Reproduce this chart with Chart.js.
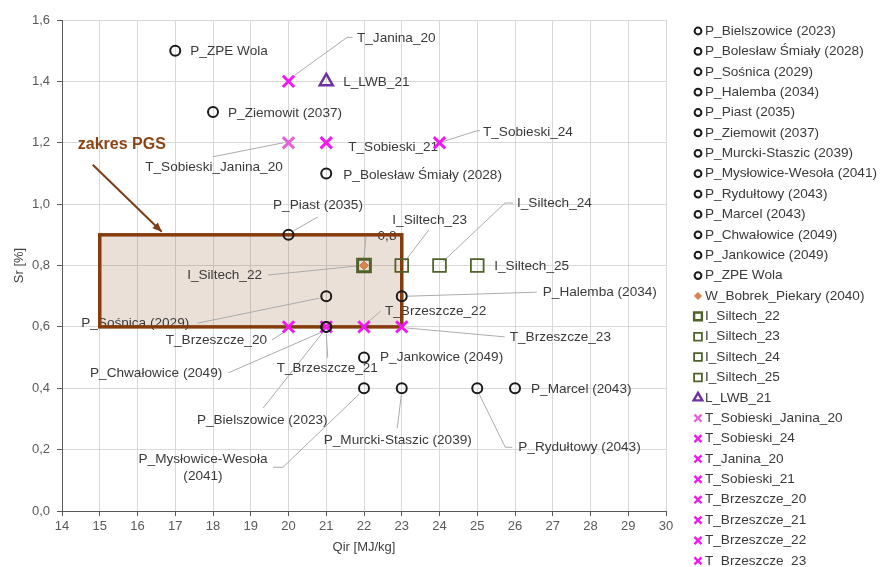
<!DOCTYPE html>
<html>
<head>
<meta charset="utf-8">
<script src="https://cdn.jsdelivr.net/npm/chart.js@4.4.0/dist/chart.umd.min.js"></script>
<style>
  html, body { margin: 0; padding: 0; background: #fff; }
</style>
</head>
<body>
<canvas id="myChartSr" width="884" height="567"></canvas>
<script>
// Dane: nazwa serii, Qir [MJ/kg], Sr [%]
const serie = [
  'P_Bielszowice (2023)', 'P_Bolesław Śmiały (2028)', 'P_Sośnica (2029)', 'P_Halemba (2034)',
  'P_Piast (2035)', 'P_Ziemowit (2037)', 'P_Murcki-Staszic (2039)', 'P_Mysłowice-Wesoła (2041)',
  'P_Rydułtowy (2043)', 'P_Marcel (2043)', 'P_Chwałowice (2049)', 'P_Jankowice (2049)',
  'P_ZPE Wola', 'W_Bobrek_Piekary (2040)', 'I_Siltech_22', 'I_Siltech_23', 'I_Siltech_24',
  'I_Siltech_25', 'L_LWB_21', 'T_Sobieski_Janina_20', 'T_Sobieski_24', 'T_Janina_20',
  'T_Sobieski_21', 'T_Brzeszcze_20', 'T_Brzeszcze_21', 'T_Brzeszcze_22', 'T_Brzeszcze_23'
];
const qir = [21, 21, 21, 23, 20, 18, 23, 22, 25, 26, 21, 22, 17, 22, 22, 23, 24, 25, 21, 20, 24, 20, 21, 20, 21, 22, 23];
const sr = [0.6, 1.1, 0.7, 0.7, 0.9, 1.3, 0.4, 0.4, 0.4, 0.4, 0.6, 0.5, 1.5, 0.8, 0.8, 0.8, 0.8, 0.8, 1.4, 1.2, 1.2, 1.4, 1.2, 0.6, 0.6, 0.6, 0.6];

// zakres PGS
const pgsQir = [15, 23];
const pgsSr = [0.6, 0.9];

// osie
const qirMin = 14, qirMax = 30, qirKrok = 1;
const srMin = 0, srMax = 1.6, srKrok = 0.2;

const fmt = v => v.toFixed(1).replace('.', ',');
const FONT = '"Liberation Sans", Arial, sans-serif';

// wygląd markerów wg prefiksu nazwy
function stylSerii(nazwa) {
  if (nazwa === 'T_Sobieski_Janina_20') return { pointStyle: 'crossRot', r: 8, lr: 5, bw: 3, kolor: '#e264d8', tlo: 'rgba(0,0,0,0)' };
  if (nazwa === 'I_Siltech_22') return { pointStyle: 'rect', r: 9, lr: 5.5, bw: 3, kolor: '#4f6228', tlo: 'rgba(0,0,0,0)' };
  switch (nazwa[0]) {
    case 'P': return { pointStyle: 'circle', r: 5, lr: 3.4, bw: 2, kolor: '#1a1a1a', tlo: 'rgba(0,0,0,0)' };
    case 'W': return { pointStyle: 'rectRot', r: 4.5, lr: 3.5, bw: 1, kolor: '#d27a4c', tlo: '#d9844f' };
    case 'I': return { pointStyle: 'rect', r: 9, lr: 5.5, bw: 1.8, kolor: '#4f6228', tlo: 'rgba(0,0,0,0)' };
    case 'L': return { pointStyle: 'triangle', r: 7.5, lr: 5, bw: 2.5, kolor: '#7030a0', tlo: 'rgba(0,0,0,0)' };
    default: return { pointStyle: 'crossRot', r: 8, lr: 5, bw: 3, kolor: '#ee1aee', tlo: 'rgba(0,0,0,0)' };
  }
}

// położenie etykiet względem punktu (piksele) i linie odniesienia
const etykiety = [
  { dx: -64, dy: 93, al: 'center', lin: [[-63, 81], [-3, 5]] },
  { dx: 17, dy: 1.5, al: 'left' },
  { dx: -137, dy: 27, al: 'right', lin: [[-129, 27], [-7, 2]] },
  { dx: 141, dy: -4, al: 'left', lin: [[135, -4], [6, 0]] },
  { dx: 29.5, dy: -30, al: 'center', lin: [[29.5, -18], [5, -4]] },
  { dx: 15, dy: 1, al: 'left' },
  { dx: -4, dy: 52, al: 'center', lin: [[-4.5, 40], [-0.5, 7]] },
  { dx: -161, dy: 71, al: 'center', lin: [[-91, 79], [-81, 79], [-5, 6]], tekst: ['P_Mysłowice-Wesoła', '(2041)'] },
  { dx: 41, dy: 59, al: 'left', lin: [[35, 59], [28, 59], [2, 6]] },
  { dx: 16, dy: 1, al: 'left' },
  { dx: -104, dy: 46, al: 'right', lin: [[-98, 46], [-4, 5]] },
  { dx: 16, dy: 0, al: 'left' },
  { dx: 15, dy: 1, al: 'left' },
  { dx: 23, dy: -29.5, al: 'center', lin: [[2, -28.5], [0, -7]], wartosc: true },
  { dx: -102, dy: 9.5, al: 'right', lin: [[-96, 9.5], [-7, 0.5]] },
  { dx: 28, dy: -45.5, al: 'center', lin: [[27, -35.5], [3, -4]] },
  { dx: 77.5, dy: -62.5, al: 'left', lin: [[73.5, -62.5], [65.5, -62.5], [3.5, -4]] },
  { dx: 17, dy: 1, al: 'left' },
  { dx: 17, dy: 1, al: 'left' },
  { dx: -74.5, dy: 24, al: 'center', lin: [[-75.5, 14], [-5, 0]] },
  { dx: 43.5, dy: -11, al: 'left', lin: [[3, -1], [37.5, -12], [40.5, -12]] },
  { dx: 68.5, dy: -43.5, al: 'left', lin: [[6, -6], [58.5, -44], [64, -44]] },
  { dx: 22, dy: 4, al: 'left' },
  { dx: -21.5, dy: 13, al: 'right', lin: [[-16.5, 13], [-5.5, 6]] },
  { dx: 1, dy: 41, al: 'center', lin: [[1.5, 31], [0, 7]] },
  { dx: 21, dy: -16, al: 'left', lin: [[17, -16], [3, -4]] },
  { dx: 108, dy: 10, al: 'left', lin: [[103, 10], [4, 1]] }
];

const datasets = serie.map((nazwa, i) => {
  const s = stylSerii(nazwa);
  return {
    label: nazwa,
    data: [{ x: qir[i], y: sr[i] }],
    pointStyle: s.pointStyle,
    pointRadius: s.r,
    pointHoverRadius: s.r,
    pointBorderWidth: s.bw,
    pointBorderColor: s.kolor,
    pointBackgroundColor: s.tlo,
    borderColor: s.kolor,
    backgroundColor: s.tlo,
    showLine: false
  };
});

// prostokąt zakresu PGS, etykiety punktów
const opisyPlugin = {
  id: 'opisy',
  beforeDatasetsDraw(chart) {
    const { ctx, scales: { x, y } } = chart;
    const x0 = x.getPixelForValue(pgsQir[0]), x1 = x.getPixelForValue(pgsQir[1]);
    const y0 = y.getPixelForValue(pgsSr[1]), y1 = y.getPixelForValue(pgsSr[0]);
    ctx.save();
    ctx.fillStyle = 'rgba(132, 60, 12, 0.16)';
    ctx.fillRect(x0, y0, x1 - x0, y1 - y0);

    // linie odniesienia i etykiety
    ctx.font = '13.6px ' + FONT;
    ctx.textBaseline = 'middle';
    etykiety.forEach((e, i) => {
      const px = x.getPixelForValue(qir[i]);
      const py = y.getPixelForValue(sr[i]);
      if (e.lin) {
        ctx.strokeStyle = '#ababab';
        ctx.lineWidth = 1;
        ctx.beginPath();
        e.lin.forEach((p, k) => {
          if (k === 0) ctx.moveTo(px + p[0], py + p[1]);
          else ctx.lineTo(px + p[0], py + p[1]);
        });
        ctx.stroke();
      }
      const linie = e.tekst || [e.wartosc ? fmt(sr[i]) : serie[i]];
      ctx.fillStyle = '#3a3a3a';
      ctx.textAlign = e.al;
      linie.forEach((t, k) => ctx.fillText(t, px + e.dx, py + e.dy + k * 17));
    });

    // ramka zakresu
    ctx.strokeStyle = '#843c0c';
    ctx.lineWidth = 3.5;
    ctx.strokeRect(x0, y0, x1 - x0, y1 - y0);

    // napis i strzałka
    ctx.fillStyle = '#8b4513';
    ctx.font = 'bold 16px ' + FONT;
    ctx.textAlign = 'left';
    ctx.fillText('zakres PGS', x0 - 22, y0 - 90);
    const ax0 = x0 - 7, ay0 = y0 - 70, ax1 = x0 + 62, ay1 = y0 - 3;
    ctx.strokeStyle = '#7a3d17';
    ctx.lineWidth = 2;
    ctx.beginPath();
    ctx.moveTo(ax0, ay0);
    ctx.lineTo(ax1, ay1);
    ctx.stroke();
    const kat = Math.atan2(ay1 - ay0, ax1 - ax0);
    ctx.fillStyle = '#7a3d17';
    ctx.beginPath();
    ctx.moveTo(ax1, ay1);
    ctx.lineTo(ax1 - 10 * Math.cos(kat - 0.4), ay1 - 10 * Math.sin(kat - 0.4));
    ctx.lineTo(ax1 - 10 * Math.cos(kat + 0.4), ay1 - 10 * Math.sin(kat + 0.4));
    ctx.closePath();
    ctx.fill();
    ctx.restore();
  }
};

// legenda po prawej stronie
const legendaPlugin = {
  id: 'legenda',
  afterDraw(chart) {
    const { ctx } = chart;
    const lx = 698, ly = 31, krok = 20.38;
    ctx.save();
    ctx.font = '13.6px ' + FONT;
    ctx.textBaseline = 'middle';
    ctx.textAlign = 'left';
    serie.forEach((nazwa, i) => {
      const s = stylSerii(nazwa);
      const yy = ly + i * krok;
      ctx.strokeStyle = s.kolor;
      ctx.fillStyle = s.tlo;
      ctx.lineWidth = s.pointStyle === 'rectRot' ? 1 : Math.min(s.bw, 2.4);
      Chart.helpers.drawPoint(ctx, { pointStyle: s.pointStyle, radius: s.lr, borderWidth: ctx.lineWidth, rotation: 0 }, lx, yy);
      ctx.fillStyle = '#3a3a3a';
      ctx.fillText(nazwa, lx + 7, yy);
    });
    ctx.restore();
  }
};

const ctx = document.getElementById('myChartSr').getContext('2d');
new Chart(ctx, {
  type: 'scatter',
  data: { datasets: datasets },
  options: {
    responsive: false,
    animation: false,
    devicePixelRatio: 1,
    layout: { padding: { left: 0, top: 20, right: 218, bottom: 0 } },
    plugins: {
      legend: { display: false },
      tooltip: { enabled: false }
    },
    scales: {
      x: {
        type: 'linear',
        min: qirMin,
        max: qirMax,
        afterFit: s => { s.height = 56; },
        ticks: { stepSize: qirKrok, autoSkip: false, maxRotation: 0, padding: 3, color: '#595959', font: { size: 13, family: FONT } },
        grid: { color: '#d9d9d9', tickColor: '#595959', tickLength: 5 },
        border: { color: '#595959' },
        title: { display: true, text: 'Qir [MJ/kg]', color: '#404040', font: { size: 13, family: FONT }, padding: { top: 0, bottom: 12 } }
      },
      y: {
        type: 'linear',
        min: srMin,
        max: srMax,
        afterFit: s => { s.width = 62; },
        ticks: { stepSize: srKrok, padding: 7, color: '#595959', font: { size: 13, family: FONT }, callback: v => fmt(v) },
        grid: { color: '#d9d9d9', tickColor: '#595959', tickLength: 5 },
        border: { color: '#595959' },
        title: { display: true, text: 'Sr [%]', color: '#404040', font: { size: 13, family: FONT }, padding: { top: 12, bottom: 0 } }
      }
    }
  },
  plugins: [opisyPlugin, legendaPlugin]
});
</script>
</body>
</html>
